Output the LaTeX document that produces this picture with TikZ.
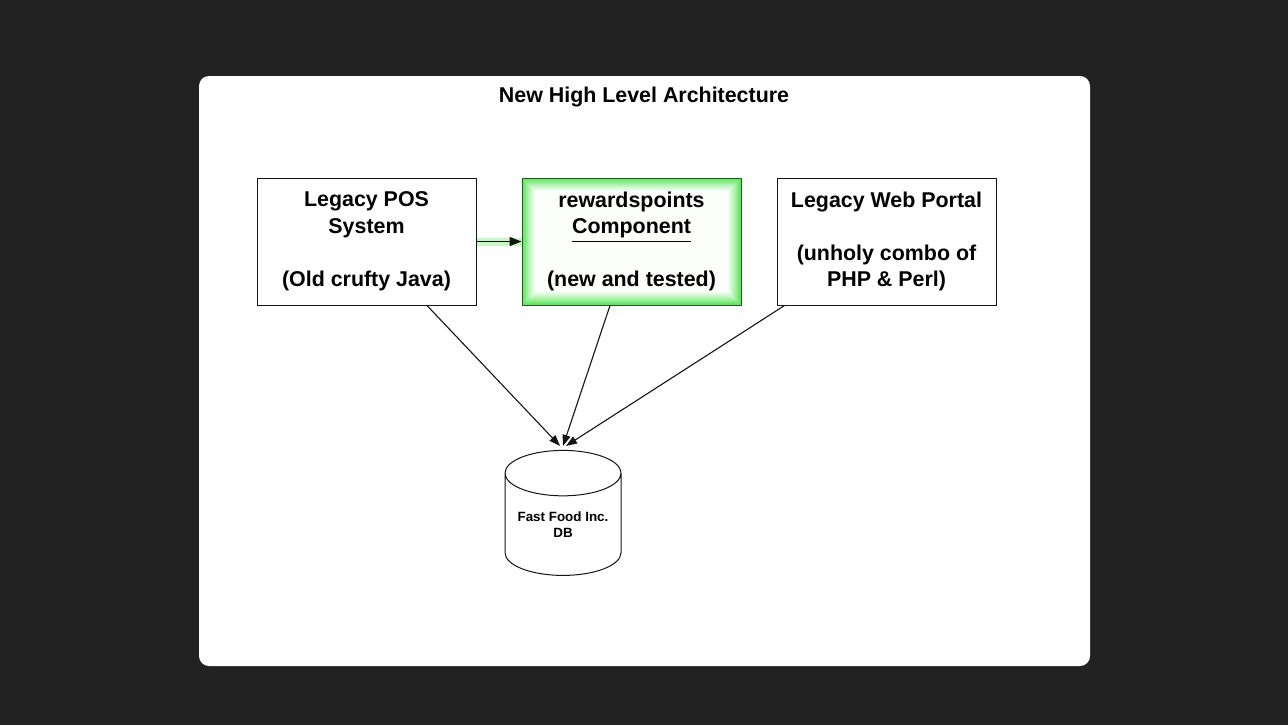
\documentclass[tikz,border=0pt]{standalone}
\usepackage{fontspec}
\setmainfont{Liberation Sans}
\usepackage{tikz}
\usetikzlibrary{shapes.geometric, arrows.meta, positioning, calc}
\definecolor{bgdark}{RGB}{34,34,34}
\definecolor{mydark}{RGB}{20,20,20}
\definecolor{glowgreen}{RGB}{96,230,96}
\definecolor{boxgreen}{RGB}{40,90,40}
\tikzset{
  sysbox/.style={rectangle, draw=mydark, fill=white,
    minimum width=109.5pt, minimum height=63.5pt, inner sep=0pt,
    align=center, font=\fontsize{10.7}{13.3}\selectfont\bfseries,
    line width=0.5pt},
  glowbox/.style={sysbox, draw=boxgreen,
    path picture={
      \foreach \k [evaluate=\k as \pc using 100-7*\k] in {0,...,14}
        \fill[glowgreen!\pc!white]
          ([shift={(\k*0.45pt,-\k*0.45pt)}]path picture bounding box.north west)
          rectangle
          ([shift={(-\k*0.45pt,\k*0.45pt)}]path picture bounding box.south east);
    }},
  dbcyl/.style={cylinder, shape border rotate=90, aspect=0.5, draw=mydark,
    fill=white, minimum width=58pt, minimum height=62.5pt, inner sep=0pt,
    align=center, font=\fontsize{6.7}{8}\selectfont\bfseries, line width=0.5pt},
  arrow/.style={-{Triangle[length=6pt, width=4.5pt]}, line width=0.7pt, color=mydark},
  thinarrow/.style={-{Triangle[length=5.5pt, width=4pt]}, line width=0.55pt, color=mydark}
}

\begin{document}
\begin{tikzpicture}[x=0.5pt, y=-0.5pt]
  % Dark surround and white panel
  \fill[bgdark] (0,0) rectangle (1288,725);
  \fill[white, rounded corners=5pt] (199,76) rectangle (1090,666);

  % Title
  \node[font=\fontsize{10.7}{13}\selectfont\bfseries] (title) at (644,97)
    {New High Level Architecture};

  % Systems
  \node[sysbox] (pos) at (366.5,241.5)
    {Legacy POS\\System\\[13.3pt](Old crufty Java)};
  \node[glowbox] (rewards) at (631.5,241.5)
    {rewardspoints\\\underline{Component}\\[13.3pt](new and tested)};
  \node[sysbox] (web) at (886.5,241.5)
    {Legacy Web Portal\\[13.3pt](unholy combo of\\PHP \& Perl)};

  % Database
  \node[dbcyl] (db) at (563,524.5) {Fast Food Inc.\\DB};

  % POS feeds the new component
  \draw[line width=4pt, glowgreen, opacity=0.35] (pos.east) -- (rewards.west);
  \draw[arrow] (pos.east) -- (rewards.west);

  % Everything talks to the DB
  \draw[thinarrow] ([xshift=30.25pt]pos.south) -- ([shift={(-1.5pt,2pt)}]db.north);
  \draw[thinarrow] ([xshift=-10.75pt]rewards.south) -- ([shift={(0pt,2pt)}]db.north);
  \draw[thinarrow] ([xshift=4pt]web.south west) -- ([shift={(1.5pt,2pt)}]db.north);
\end{tikzpicture}
\end{document}
